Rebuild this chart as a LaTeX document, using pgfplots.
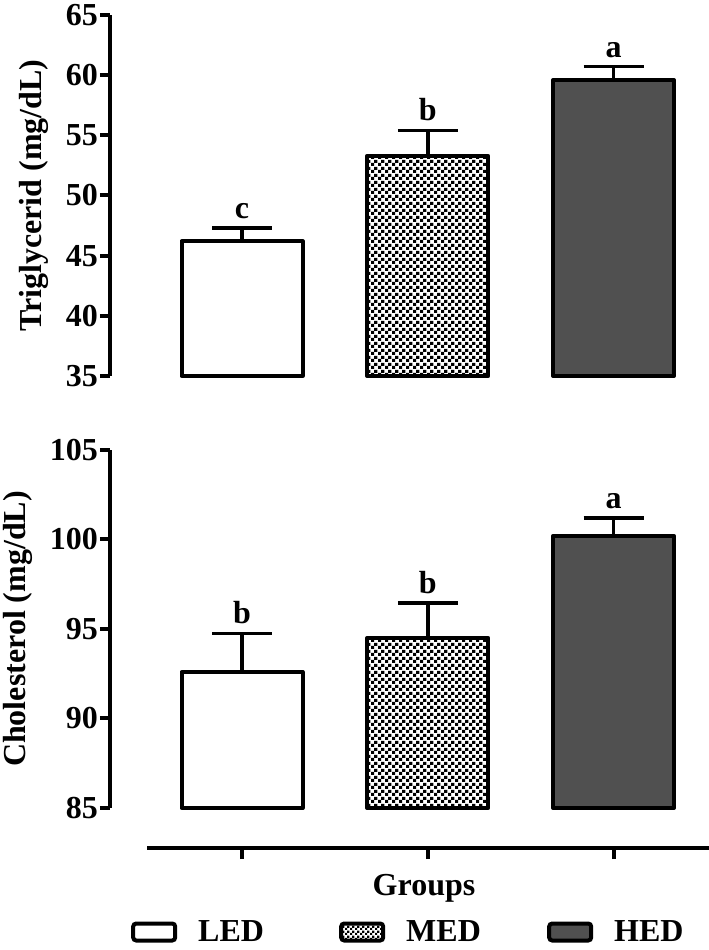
\documentclass[border=0pt]{standalone}
\usepackage{fontspec}
\setmainfont{Liberation Serif}
\usepackage{pgfplots}
\pgfplotsset{compat=1.18}
\usepackage{pgfplotstable}
\usetikzlibrary{patterns}

\definecolor{hed}{RGB}{80,80,80}
\pgfdeclarepatternformonly{bigcheck}{\pgfpointorigin}{\pgfqpoint{7pt}{7pt}}{\pgfqpoint{7pt}{7pt}}{%
  \pgfpathrectangle{\pgfpointorigin}{\pgfqpoint{3.6pt}{3.6pt}}%
  \pgfpathrectangle{\pgfqpoint{3.5pt}{3.5pt}}{\pgfqpoint{3.6pt}{3.6pt}}%
  \pgfusepath{fill}}
\pgfdeclarepatternformonly{smallcheck}{\pgfpointorigin}{\pgfqpoint{5pt}{5pt}}{\pgfqpoint{5pt}{5pt}}{%
  \pgfpathrectangle{\pgfpointorigin}{\pgfqpoint{2.5pt}{2.5pt}}%
  \pgfpathrectangle{\pgfqpoint{2.5pt}{2.5pt}}{\pgfqpoint{2.5pt}{2.5pt}}%
  \pgfusepath{fill}}

\newcommand\tickf{\fontsize{32}{32}\selectfont\bfseries}
\newcommand\labf{\fontsize{32}{32}\selectfont\bfseries}

\pgfplotstableread{
x y err lab
1 46.2 1.1 c
2 53.3 2.1 b
3 59.6 1.1 a
}\trig
\pgfplotstableread{
x y err lab
1 92.6 2.15 b
2 94.5 1.95 b
3 100.2 1.0 a
}\chol

\pgfplotsset{
  mybar/.style={ybar, bar width=121pt, bar shift=0pt, line width=4pt, draw=black,
    line join=round,
    error bars/y dir=plus, error bars/y explicit,
    error bars/error bar style={line width=3.5pt, black},
    error bars/error mark options={rotate=90, line width=3.5pt, mark size=30pt, black}},
  panel/.style={
    anchor=south west, scale only axis, width=596.4pt,
    xmin=0.2894, xmax=3.5,
    axis x line=none, axis y line=left,
    axis line style={-, line width=4pt, black},
    tick align=outside, major tick length=10pt,
    tick style={line width=4pt, black},
    yticklabel style={font=\tickf, inner sep=2pt, text height=21pt, text depth=0pt},
    ylabel style={font=\labf, inner sep=15pt},
    clip=false},
  lettr/.style={draw=none, mark=none, nodes near coords, point meta=explicit symbolic,
    every node near coord/.append style={font=\labf, anchor=south, inner sep=0pt, yshift=9pt, black}},
}

\begin{document}
\begin{tikzpicture}
\useasboundingbox (0,0) rectangle (709pt,950pt);

% Top panel
\begin{axis}[panel, at={(110pt,574pt)}, height=361pt,
  ymin=0, ymax=30, ytick={0,5,...,30}, yticklabels={35,40,45,50,55,60,65},
  ylabel={Triglycerid (mg/dL)}]
\addplot[mybar, fill=white] table[x=x, y expr=\thisrow{y}-35, y error=err, restrict x to domain=1:1] {\trig};
\addplot[mybar, pattern=bigcheck, pattern color=black] table[x=x, y expr=\thisrow{y}-35, y error=err, restrict x to domain=2:2] {\trig};
\addplot[mybar, fill=hed] table[x=x, y expr=\thisrow{y}-35, y error=err, restrict x to domain=3:3] {\trig};
\addplot[lettr] table[x=x, y expr=\thisrow{y}+\thisrow{err}-35, meta=lab] {\trig};
\end{axis}

% Bottom panel
\begin{axis}[panel, at={(110pt,142pt)}, height=358pt,
  ymin=0, ymax=20, ytick={0,5,...,20}, yticklabels={85,90,95,100,105},
  ylabel={Cholesterol (mg/dL)}]
\addplot[mybar, fill=white] table[x=x, y expr=\thisrow{y}-85, y error=err, restrict x to domain=1:1] {\chol};
\addplot[mybar, pattern=bigcheck, pattern color=black] table[x=x, y expr=\thisrow{y}-85, y error=err, restrict x to domain=2:2] {\chol};
\addplot[mybar, fill=hed] table[x=x, y expr=\thisrow{y}-85, y error=err, restrict x to domain=3:3] {\chol};
\addplot[lettr] table[x=x, y expr=\thisrow{y}+\thisrow{err}-85, meta=lab] {\chol};
\end{axis}

% Group axis with legend
\begin{axis}[at={(147pt,102pt)}, anchor=south west, scale only axis,
  width=562pt, height=10pt,
  xmin=0.48856, xmax=3.5141, ymin=0, ymax=1,
  axis x line=bottom, axis y line=none,
  axis line style={-, line width=4pt, black},
  xtick={1,2,3}, xticklabels={,,},
  tick align=outside, major tick length=11pt,
  tick style={line width=4pt, black},
  xlabel={Groups},
  xlabel style={font=\labf, at={(axis description cs:0.4929,0)}, anchor=base, yshift=-47pt, inner sep=0pt},
  legend columns=3,
  legend image code/.code={\draw[#1, line width=4pt, rounded corners=3pt] (2pt,-8.5pt) rectangle (44pt,8.5pt);},
  legend style={at={(axis description cs:-0.02847,-8.4)}, anchor=west, draw=none, fill=none,
    inner sep=0pt, font=\labf, nodes={inner sep=0pt},
    /tikz/every odd column/.style={column sep=21pt},
    /tikz/every even column/.style={column sep=21pt}},
  clip=false]
\addlegendimage{draw=black, fill=white}
\addlegendentry{\makebox[120pt][l]{LED}}
\addlegendimage{draw=black, pattern=smallcheck, pattern color=black}
\addlegendentry{\makebox[120pt][l]{MED}}
\addlegendimage{draw=black, fill=hed}
\addlegendentry{\makebox[120pt][l]{HED}}
\end{axis}
\end{tikzpicture}
\end{document}
